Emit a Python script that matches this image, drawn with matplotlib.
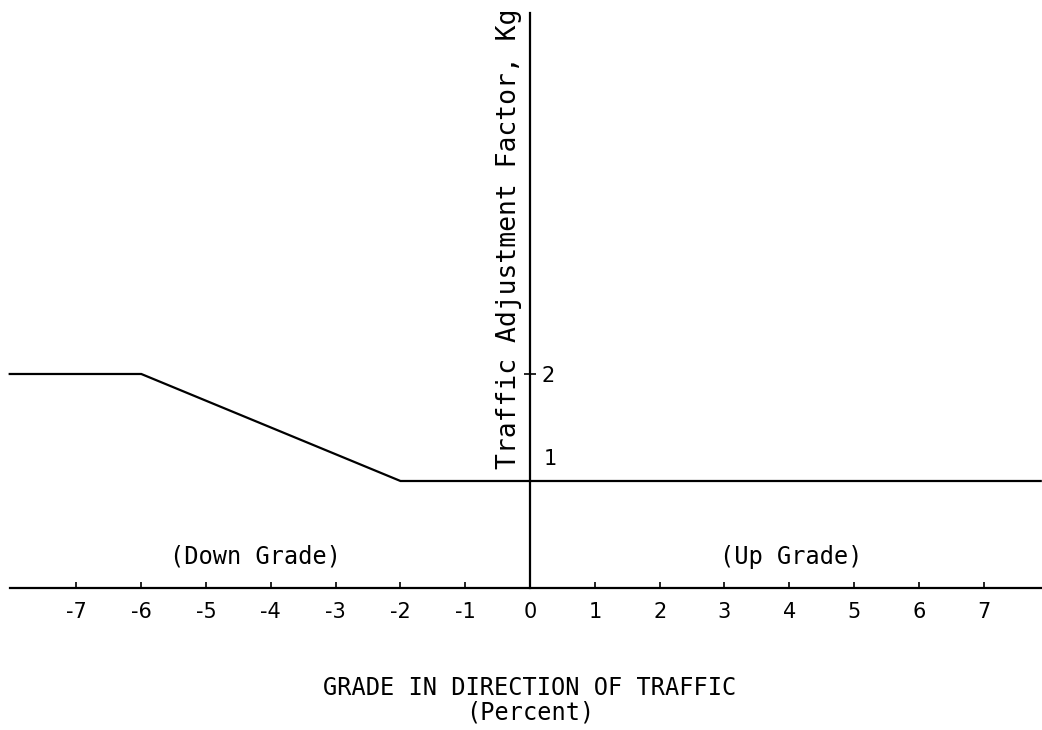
import matplotlib
matplotlib.use("Agg")
import matplotlib.pyplot as plt

plt.rcParams["axes.unicode_minus"] = False
plt.rcParams["font.family"] = ["DejaVu Sans"]

# grade (%) vs traffic adjustment factor Kg
grade = [-8.03, -6, -2, 7.88]
kg = [2, 2, 1, 1]

x_ticks = [-7, -6, -5, -4, -3, -2, -1, 0, 1, 2, 3, 4, 5, 6, 7]
x_tick_labels = ["-7", "-6", "-5", "-4", "-3", "-2", "-1", "0", "1", "2", "3", "4", "5", "6", "7"]
y_ticks = [2]
y_tick_labels = ["2"]

label_font = "DejaVu Sans Mono"

fig = plt.figure(figsize=(10.42, 7.30), dpi=100)
ax = fig.add_axes([0, 0, 1, 1])
ax.set_xlim(-8.18, 7.90)
ax.set_ylim(-1.327, 5.495)

ax.plot(grade, kg, color="black", lw=1.6, solid_joinstyle="miter")

for side in ["top", "left"]:
    ax.spines[side].set_visible(False)
ax.spines["bottom"].set_position(("data", 0))
ax.spines["bottom"].set_bounds(-8.03, 7.88)
ax.spines["right"].set_position(("data", 0))
ax.spines["right"].set_bounds(0, 5.37)
for side in ["bottom", "right"]:
    ax.spines[side].set_linewidth(1.6)

ax.set_xticks(x_ticks)
ax.set_xticklabels(x_tick_labels)
ax.tick_params(axis="x", direction="in", length=4, width=1.2, labelsize=15, pad=10)
ax.yaxis.set_ticks_position("right")
ax.set_yticks(y_ticks)
ax.set_yticklabels(y_tick_labels)
ax.tick_params(axis="y", direction="inout", length=8, width=1.2, labelsize=15, pad=4)

ax.annotate("1", xy=(0, 1), xytext=(10, 16), textcoords="offset points",
            fontsize=15, ha="left", va="center")
ax.annotate("Traffic Adjustment Factor, Kg", xy=(0, 3.26), xytext=(-15, 0),
            textcoords="offset points", rotation=90, fontsize=19,
            family=label_font, ha="center", va="center")

ax.text(-4.23, 0.18, "(Down Grade)", fontsize=17, family=label_font,
        ha="center", va="bottom")
ax.text(4.03, 0.18, "(Up Grade)", fontsize=17, family=label_font,
        ha="center", va="bottom")
ax.text(0, -0.93, "GRADE IN DIRECTION OF TRAFFIC", fontsize=17,
        family=label_font, ha="center", va="center")
ax.text(0, -1.16, "(Percent)", fontsize=17, family=label_font,
        ha="center", va="center")

fig.savefig("out.png", dpi=100)
